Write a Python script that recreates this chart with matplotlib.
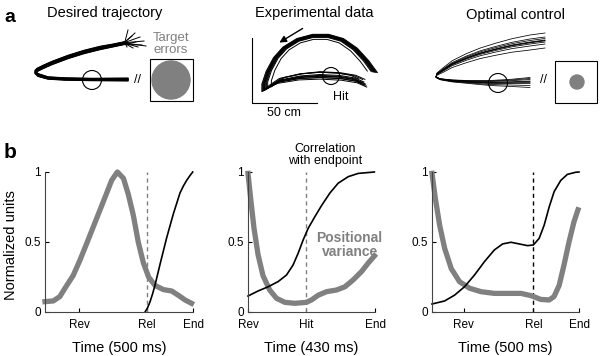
import matplotlib.pyplot as plt
from matplotlib.patches import Circle, Rectangle

plt.rcParams['font.family'] = ['Liberation Sans', 'DejaVu Sans']

# ---- panel b data (time as fraction of the window, values normalized) ----
# left: desired trajectory
t_var_1 = [0, 0.056, 0.10, 0.135, 0.19, 0.236, 0.282, 0.327, 0.372, 0.417, 0.45, 0.489,
           0.53, 0.563, 0.597, 0.63, 0.665, 0.70, 0.743, 0.80, 0.856, 0.90, 0.946, 0.99]
var_1 = [0.074, 0.079, 0.11, 0.17, 0.26, 0.37, 0.49, 0.61, 0.73, 0.85, 0.94, 1.0,
         0.955, 0.84, 0.69, 0.50, 0.35, 0.25, 0.19, 0.16, 0.15, 0.12, 0.086, 0.062]
t_cor_1 = [0.676, 0.693, 0.71, 0.727, 0.743, 0.777, 0.822, 0.867, 0.912, 0.935, 0.957, 0.98, 0.998]
cor_1 = [0, 0.03, 0.074, 0.13, 0.19, 0.34, 0.53, 0.70, 0.85, 0.90, 0.94, 0.975, 1.0]
ticks_1 = [0.232, 0.69, 1.0]
labels_1 = ['Rev', 'Rel', 'End']

# middle: experimental data
t_var_2 = [0, 0.021, 0.047, 0.079, 0.118, 0.171, 0.224, 0.29, 0.368, 0.46, 0.50,
           0.553, 0.618, 0.697, 0.763, 0.829, 0.895, 0.947, 0.995]
var_2 = [0.99, 0.81, 0.60, 0.41, 0.26, 0.157, 0.098, 0.069, 0.062, 0.069, 0.086,
         0.12, 0.145, 0.157, 0.18, 0.23, 0.29, 0.35, 0.40]
t_cor_2 = [0, 0.079, 0.158, 0.237, 0.303, 0.355, 0.395, 0.434, 0.474, 0.526, 0.579,
           0.645, 0.71, 0.79, 0.868, 0.995]
cor_2 = [0.114, 0.15, 0.18, 0.217, 0.264, 0.336, 0.42, 0.514, 0.598, 0.68, 0.76,
         0.85, 0.92, 0.967, 0.99, 1.0]
ticks_2 = [0, 0.46, 1.0]
labels_2 = ['Rev', 'Hit', 'End']

# right: optimal control
t_var_3 = [0, 0.023, 0.052, 0.086, 0.131, 0.187, 0.255, 0.334, 0.424, 0.515, 0.605,
           0.673, 0.74, 0.797, 0.83, 0.865, 0.898, 0.932, 0.966, 0.993]
var_3 = [0.99, 0.81, 0.62, 0.455, 0.31, 0.217, 0.17, 0.145, 0.133, 0.133, 0.133,
         0.117, 0.09, 0.086, 0.11, 0.19, 0.336, 0.50, 0.645, 0.73]
t_cor_3 = [0, 0.086, 0.153, 0.221, 0.289, 0.357, 0.424, 0.48, 0.537, 0.594, 0.65,
           0.69, 0.729, 0.763, 0.797, 0.831, 0.876, 0.921, 0.977, 1.0]
cor_3 = [0.057, 0.079, 0.12, 0.18, 0.264, 0.36, 0.443, 0.486, 0.498, 0.486, 0.474,
         0.479, 0.526, 0.62, 0.75, 0.86, 0.94, 0.983, 0.998, 1.0]
ticks_3 = [0.217, 0.69, 1.0]
labels_3 = ['Rev', 'Rel', 'End']

# ---- panel a sketch data (page pixel coordinates) ----
path_1_x = [125, 113, 100, 84, 68, 52, 43, 37, 35, 38, 48, 65, 92, 128]
path_1_y = [43, 45.5, 48, 52, 57, 63, 67, 70, 72, 75, 78, 79, 79.5, 79.5]
weight_1 = [0.6, 0.6, 0.7, 0.7, 0.7, 0.7, 0.7, 0.7, 0.7, 0.6, 0.5, 0.5, 0.5, 0.6]
tips_1 = [(128, 30), (135, 33), (140, 37), (144, 41), (146, 46), (138, 47),
          (133, 48), (130, 44), (136, 42), (142, 45), (132, 36), (127, 47)]
shift_1 = [-2.5, -1.5, -1, -0.5, 0, 0.5, 1, 1.5, 2, 2.5, -2, 0.3]

path_2_x = [374, 366, 355, 342, 328, 313, 298, 285, 276, 269, 265, 265, 270, 280,
            300, 320, 340, 355, 364]
path_2_y = [72, 61, 49, 40, 36, 36, 40, 48, 58, 71, 83, 90, 86, 80, 76, 74.5, 75.5, 78, 82]
bottom_2 = [0, 0, 0, 0, 0, 0, 0, 0, 0, 0, 0, 0, 0.3, 0.6, 0.8, 1, 1, 1, 1]
scale_2 = [-0.12, -0.05, -0.03, -0.015, 0.0, 0.01, 0.02, 0.03, 0.045, 0.06]
drop_2 = [-1, 2, -2, 1, 0, 3, -3, 1.5, 2.5, 4]

path_3_x = [545, 530, 512, 495, 480, 466, 452, 443, 437, 436, 440, 452, 470, 490, 510, 530]
path_3_y = [40, 42, 45, 49, 53, 58, 64, 70, 74, 77, 79, 80.5, 81.5, 82, 81.5, 80.5]
top_w_3 = [1, 1, 0.9, 0.8, 0.7, 0.6, 0.45, 0.3, 0.15, 0.05, 0, 0, 0, 0, 0, 0]
bot_w_3 = [0, 0, 0, 0, 0, 0, 0, 0, 0, 0.05, 0.1, 0.2, 0.3, 0.5, 0.7, 1]
shifts_3 = [(-7, -1), (-3, 2), (-1.5, -3), (0, 0.5), (0.8, 3), (2, -2), (4, 5),
            (8, 1), (0.5, 7)]

gray = '#808080'

fig = plt.figure(figsize=(6, 3.56), dpi=100)

# full-page axes for panel a sketches and page labels
ax_a = fig.add_axes([0, 0, 1, 1])
ax_a.set_xlim(0, 600)
ax_a.set_ylim(356, 0)
ax_a.axis('off')

# left bundle
for (tx, ty), s in zip(tips_1, shift_1):
    xs = [tx] + path_1_x
    ys = [ty] + [y + s * w for y, w in zip(path_1_y, weight_1)]
    ax_a.plot(xs, ys, color='black', lw=0.7)
ax_a.add_patch(Circle((92, 80), 9.5, fill=False, color='black', lw=0.8))
ax_a.text(137, 80, '//', ha='center', va='center', fontsize=9)
ax_a.add_patch(Rectangle((150, 59), 43, 42, fill=False, color='black', lw=0.8))
ax_a.add_patch(Circle((171, 80), 19, color=gray))
ax_a.text(171, 44, 'Target\nerrors', ha='center', va='center', fontsize=9.5,
          color=gray, linespacing=1.0)

# middle bundle
cx, cy = 318, 64
for s, d in zip(scale_2, drop_2):
    xs = [cx + (x - cx) * (1 + s) for x in path_2_x]
    ys = [cy + (y - cy) * (1 + s) + d * w for y, w in zip(path_2_y, bottom_2)]
    ax_a.plot(xs, ys, color='black', lw=0.7)
ax_a.add_patch(Circle((331, 76), 8.5, fill=False, color='black', lw=0.8))
ax_a.text(341, 97, 'Hit', ha='center', va='center', fontsize=9)
ax_a.plot([252, 252, 317], [38, 103, 103], color='black', lw=0.8)
ax_a.text(284, 113, '50 cm', ha='center', va='center', fontsize=9)
ax_a.annotate('', xy=(277, 44), xytext=(305, 27),
              arrowprops=dict(arrowstyle='-|>', color='black', lw=1))

# right bundle
for st, sb in shifts_3:
    ys = [y + st * wt + sb * wb for y, wt, wb in zip(path_3_y, top_w_3, bot_w_3)]
    ax_a.plot(path_3_x, ys, color='black', lw=0.55)
ax_a.add_patch(Circle((498, 83), 9.5, fill=False, color='black', lw=0.8))
ax_a.text(544, 80, '//', ha='center', va='center', fontsize=9)
ax_a.add_patch(Rectangle((555, 61), 42, 42, fill=False, color='black', lw=0.8))
ax_a.add_patch(Circle((577, 82), 7, color=gray))

# titles and panel letters
ax_a.text(105, 13, 'Desired trajectory', ha='center', va='center', fontsize=10.5)
ax_a.text(314, 13, 'Experimental data', ha='center', va='center', fontsize=10.5)
ax_a.text(515, 15, 'Optimal control', ha='center', va='center', fontsize=10.5)
ax_a.text(10, 17, 'a', ha='center', va='center', fontsize=14, fontweight='bold')
ax_a.text(10, 152, 'b', ha='center', va='center', fontsize=15, fontweight='bold')
ax_a.text(11, 245, 'Normalized units', ha='center', va='center', fontsize=10.5, rotation=90)

# panel b axes
specs = [
    (45, 148, t_var_1, var_1, t_cor_1, cor_1, ticks_1, labels_1, 0.69, gray, 'Time (500 ms)'),
    (248, 127, t_var_2, var_2, t_cor_2, cor_2, ticks_2, labels_2, 0.46, gray, 'Time (430 ms)'),
    (432, 147, t_var_3, var_3, t_cor_3, cor_3, ticks_3, labels_3, 0.69, 'black', 'Time (500 ms)'),
]
for left, width, tv, v, tc, c, ticks, labels, xdash, dcol, xlab in specs:
    ax = fig.add_axes([left / 600, (356 - 312) / 356, width / 600, 140 / 356])
    ax.patch.set_alpha(0)
    ax.set_xlim(0, 1)
    ax.set_ylim(0, 1)
    ax.plot([xdash, xdash], [0, 1], color=dcol, lw=1, ls=(0, (3, 2.5)))
    ax.plot(tv, v, color=gray, lw=3.8, solid_joinstyle='round', clip_on=False)
    ax.plot(tc, c, color='black', lw=1.2, solid_joinstyle='round', clip_on=False)
    for sp in ['top', 'right']:
        ax.spines[sp].set_visible(False)
    for sp in ['left', 'bottom']:
        ax.spines[sp].set_linewidth(0.8)
        ax.spines[sp].set_color('#444444')
    ax.set_yticks([0, 0.5, 1])
    ax.set_yticklabels(['0', '0.5', '1'])
    ax.set_xticks(ticks)
    ax.set_xticklabels(labels)
    ax.tick_params(direction='in', length=3, width=0.8, labelsize=8.5)
    ax.tick_params(axis='y', pad=3)
    ax.tick_params(axis='x', pad=5)
    ax.set_xlabel(xlab, fontsize=10.5, labelpad=7)

ax_b2 = fig.axes[2]
ax_b2.text(0.61, 1.12, 'Correlation\nwith endpoint', transform=ax_b2.transAxes,
           ha='center', va='center', fontsize=9, linespacing=1.0)
ax_b2.text(0.80, 0.48, 'Positional\nvariance', transform=ax_b2.transAxes,
           ha='center', va='center', fontsize=10, color=gray, fontweight='bold',
           linespacing=1.0)

fig.savefig('out.png', dpi=100)
